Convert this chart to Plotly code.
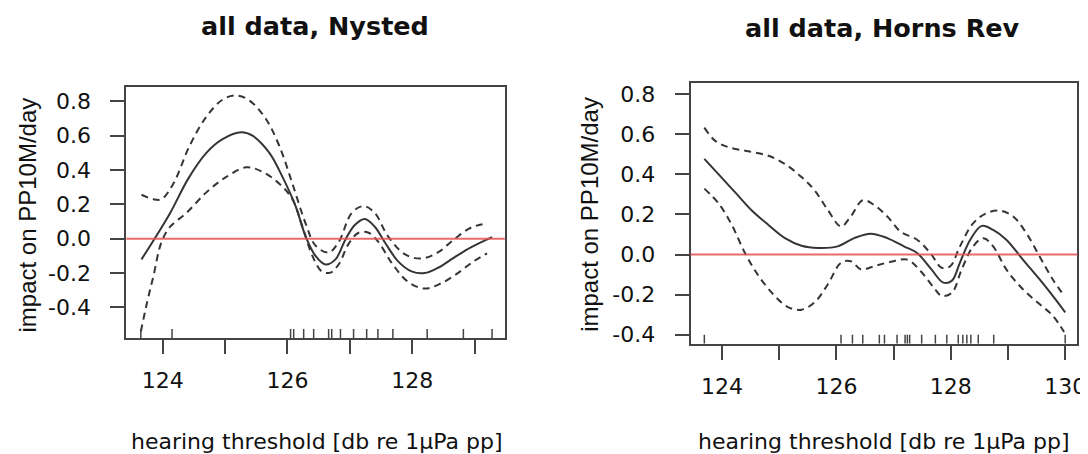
import plotly.graph_objects as go

# ---------------- Data: Nysted ----------------
ny_fit_x = [123.66, 123.88, 124.12, 124.41, 124.70, 124.96, 125.26, 125.44, 125.71, 125.92,
            126.13, 126.29, 126.45, 126.61, 126.77, 126.93, 127.08, 127.24, 127.40, 127.56,
            127.77, 127.99, 128.20, 128.41, 128.67, 128.94, 129.28]
ny_fit_y = [-0.12, 0.006, 0.15, 0.35, 0.50, 0.58, 0.62, 0.60, 0.50, 0.36,
            0.19, 0.015, -0.10, -0.15, -0.12, -0.004, 0.08, 0.115, 0.07, -0.02,
            -0.13, -0.19, -0.20, -0.17, -0.11, -0.05, 0.01]
ny_up_x = [123.66, 123.85, 123.98, 124.17, 124.43, 124.70, 124.96, 125.18, 125.39, 125.65,
           125.87, 126.08, 126.29, 126.45, 126.66, 126.82, 127.03, 127.22, 127.40, 127.61,
           127.88, 128.14, 128.41, 128.67, 128.94, 129.20]
ny_up_y = [0.256, 0.23, 0.23, 0.32, 0.54, 0.71, 0.81, 0.834, 0.805, 0.70,
           0.54, 0.32, 0.09, -0.04, -0.08, -0.02, 0.15, 0.19, 0.15, 0.015,
           -0.09, -0.115, -0.08, -0.004, 0.064, 0.09]
ny_lo_x = [123.65, 123.75, 123.85, 123.98, 124.12, 124.38, 124.70, 125.02, 125.34, 125.60,
           125.87, 126.08, 126.24, 126.40, 126.55, 126.69, 126.82, 126.98, 127.14, 127.30,
           127.46, 127.67, 127.93, 128.20, 128.46, 128.73, 128.99, 129.20]
ny_lo_y = [-0.54, -0.37, -0.22, -0.02, 0.07, 0.15, 0.27, 0.36, 0.416, 0.39,
           0.32, 0.23, 0.07, -0.10, -0.19, -0.197, -0.15, -0.03, 0.035, 0.035,
           -0.02, -0.14, -0.25, -0.29, -0.26, -0.20, -0.13, -0.085]
ny_rug = [123.65, 124.15, 126.05, 126.10, 126.26, 126.42, 126.66, 126.71, 126.85, 127.06,
          127.27, 127.45, 127.69, 128.24, 128.82, 129.28]

# ---------------- Data: Horns Rev ----------------
hr_fit_x = [123.69, 123.94, 124.23, 124.52, 124.81, 125.10, 125.39, 125.68, 126.02, 126.31,
            126.60, 126.89, 127.18, 127.41, 127.64, 127.87, 128.02, 128.16, 128.34, 128.54,
            128.74, 128.97, 129.26, 129.55, 129.78, 130.0]
hr_fit_y = [0.477, 0.40, 0.31, 0.22, 0.148, 0.082, 0.044, 0.033, 0.041, 0.082,
            0.104, 0.082, 0.041, 0.008, -0.066, -0.14, -0.13, -0.04, 0.074, 0.143,
            0.123, 0.074, -0.025, -0.123, -0.205, -0.288]
hr_up_x = [123.69, 123.88, 124.12, 124.46, 124.81, 125.10, 125.39, 125.62, 125.85, 126.08,
           126.25, 126.46, 126.66, 126.89, 127.12, 127.41, 127.64, 127.84, 127.99, 128.16,
           128.39, 128.62, 128.86, 129.09, 129.32, 129.55, 129.78, 129.98]
hr_up_y = [0.633, 0.567, 0.535, 0.515, 0.493, 0.452, 0.387, 0.32, 0.222, 0.14,
           0.19, 0.271, 0.247, 0.19, 0.115, 0.074, 0.008, -0.066, -0.058, 0.041,
           0.156, 0.206, 0.219, 0.19, 0.107, -0.008, -0.123, -0.205]
hr_lo_x = [123.69, 123.94, 124.17, 124.40, 124.64, 124.92, 125.16, 125.39, 125.62, 125.85,
           126.08, 126.25, 126.43, 126.66, 126.95, 127.24, 127.47, 127.70, 127.84, 128.02,
           128.19, 128.39, 128.57, 128.74, 128.97, 129.26, 129.55, 129.78, 129.98]
hr_lo_y = [0.329, 0.255, 0.148, 0.008, -0.107, -0.206, -0.263, -0.275, -0.238, -0.148,
           -0.041, -0.033, -0.074, -0.058, -0.036, -0.025, -0.082, -0.164, -0.206, -0.19,
           -0.074, 0.041, 0.082, 0.041, -0.074, -0.173, -0.247, -0.304, -0.386]
hr_rug = [123.69, 126.08, 126.28, 126.46, 126.75, 126.84, 127.06, 127.20, 127.24, 127.28,
          127.49, 127.73, 127.93, 128.13, 128.21, 128.28, 128.35, 128.48, 128.75, 130.0]

titles = ["all data, Nysted", "all data, Horns Rev"]
x_title = "hearing threshold [db re 1µPa pp]"
y_title = "impact on PP10M/day"
y_ticks = [-0.4, -0.2, 0.0, 0.2, 0.4, 0.6, 0.8]
y_labels = ["-0.4", "-0.2", "0.0", "0.2", "0.4", "0.6", "0.8"]
ny_xticks = [124, 125, 126, 127, 128, 129]
ny_xlabels = ["124", "", "126", "", "128", ""]
hr_xticks = [124, 125, 126, 127, 128, 129, 130]
hr_xlabels = ["124", "", "126", "", "128", "", "130"]

# ---------------- Layout helpers ----------------
W, H = 1088, 454
def px(x):
    return x / W
def py(y):
    return 1 - y / H

LINE = "#353535"
AX = "#444444"
TXT = "#111111"
TICKFONT = dict(family="DejaVu Sans", size=22, color=TXT)

fig = go.Figure()

def add_panel(xa, ya, fx, fy, ux, uy, lx, ly):
    fig.add_trace(go.Scatter(x=fx, y=fy, mode="lines", xaxis=xa, yaxis=ya,
                             line=dict(color=LINE, width=2, shape="spline")))
    for xs, ys in ((ux, uy), (lx, ly)):
        fig.add_trace(go.Scatter(x=xs, y=ys, mode="lines", xaxis=xa, yaxis=ya,
                                 line=dict(color=LINE, width=2, dash="7px,5px", shape="spline")))

add_panel("x", "y", ny_fit_x, ny_fit_y, ny_up_x, ny_up_y, ny_lo_x, ny_lo_y)
add_panel("x2", "y2", hr_fit_x, hr_fit_y, hr_up_x, hr_up_y, hr_lo_x, hr_lo_y)

shapes = []
for xr, yr, rug, h in (("x", "y", ny_rug, 0.036), ("x2", "y2", hr_rug, 0.034)):
    # red reference line at zero
    shapes.append(dict(type="line", xref=xr + " domain", yref=yr, x0=0, x1=1, y0=0, y1=0,
                       line=dict(color="rgba(232,80,80,0.85)", width=2)))
    for v in rug:
        shapes.append(dict(type="line", xref=xr, yref=yr + " domain", x0=v, x1=v, y0=0, y1=h,
                           line=dict(color=AX, width=1.5)))

def xaxis(domain, anchor, rng, tv, tt):
    return dict(domain=domain, anchor=anchor, range=rng, tickvals=tv, ticktext=tt,
                ticks="outside", ticklen=14, tickwidth=1.5, tickcolor=AX,
                showline=True, mirror=True, linecolor=AX, linewidth=2,
                showgrid=False, zeroline=False, tickfont=TICKFONT, ticklabelstandoff=8)

def yaxis(domain, anchor, rng):
    return dict(domain=domain, anchor=anchor, range=rng, tickvals=y_ticks, ticktext=y_labels,
                ticks="outside", ticklen=14, tickwidth=1.5, tickcolor=AX,
                showline=True, mirror=True, linecolor=AX, linewidth=2,
                showgrid=False, zeroline=False, tickfont=TICKFONT, ticklabelstandoff=15)

TITLEFONT = dict(family="DejaVu Sans", size=25.5, color=TXT)
annotations = [
    dict(text="<b>%s</b>" % titles[0], x=px(310), y=py(17), xref="paper", yref="paper",
         showarrow=False, xanchor="center", yanchor="middle", font=TITLEFONT),
    dict(text="<b>%s</b>" % titles[1], x=px(882), y=py(19), xref="paper", yref="paper",
         showarrow=False, xanchor="center", yanchor="middle", font=TITLEFONT),
    dict(text=x_title, x=px(311), y=py(437), xref="paper", yref="paper",
         showarrow=False, xanchor="center", yanchor="middle", font=TICKFONT),
    dict(text=x_title, x=px(883), y=py(437), xref="paper", yref="paper",
         showarrow=False, xanchor="center", yanchor="middle", font=TICKFONT),
    dict(text=y_title, x=px(20), y=py(208), xref="paper", yref="paper", textangle=-90,
         showarrow=False, xanchor="center", yanchor="middle",
         font=dict(family="Liberation Sans", size=24, color=TXT)),
    dict(text=y_title, x=px(587), y=py(208), xref="paper", yref="paper", textangle=-90,
         showarrow=False, xanchor="center", yanchor="middle",
         font=dict(family="Liberation Sans", size=24, color=TXT)),
]

fig.update_layout(
    width=W, height=H, margin=dict(l=0, r=0, t=0, b=0),
    paper_bgcolor="white", plot_bgcolor="white", showlegend=False,
    xaxis=xaxis([px(119.3), px(501)], "y", [123.417, 129.485], ny_xticks, ny_xlabels),
    yaxis=yaxis([py(332.7), py(79.3)], "x", [-0.578, 0.881]),
    xaxis2=xaxis([px(688.3), px(1078.3)], "y2", [123.45, 130.213], hr_xticks, hr_xlabels),
    yaxis2=yaxis([py(338.3), py(75)], "x2", [-0.444, 0.855]),
    shapes=shapes, annotations=annotations,
)

fig.write_html("out.html")
